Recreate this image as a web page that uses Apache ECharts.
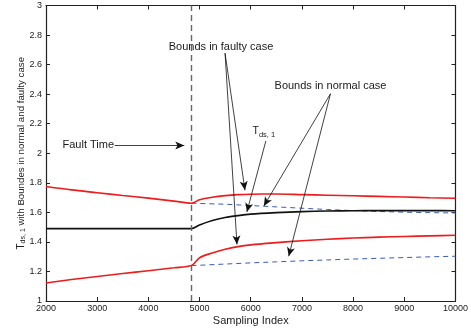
<!DOCTYPE html>
<html lang="en">
  <head>
    <meta charset="UTF-8" />
    <title>Tds,1 bounds</title>
    <script src="https://cdn.jsdelivr.net/npm/echarts@6.0.0/dist/echarts.min.js"></script>
  </head>
  <body style="margin: 0">
    <div id="main" style="width: 471px; height: 331px"></div>
    <script type="text/javascript">
      // sampling index and values
      var xs = [2000, 2500, 3000, 3500, 4000, 4500, 4840, 5000, 5250, 5500, 5750, 6000, 6500, 7000, 7500, 8000, 8500, 9000, 9500, 10000];
      var faultyUpper = [1.775, 1.752, 1.733, 1.714, 1.696, 1.676, 1.662, 1.685, 1.702, 1.713, 1.72, 1.723, 1.724, 1.72, 1.716, 1.712, 1.708, 1.704, 1.699, 1.695];
      var faultyLower = [1.122, 1.145, 1.166, 1.186, 1.205, 1.225, 1.24, 1.293, 1.325, 1.35, 1.368, 1.38, 1.395, 1.408, 1.418, 1.426, 1.432, 1.437, 1.441, 1.445];
      var tds = [1.49, 1.49, 1.49, 1.49, 1.49, 1.49, 1.49, 1.515, 1.545, 1.565, 1.578, 1.588, 1.598, 1.605, 1.609, 1.611, 1.612, 1.612, 1.612, 1.611];

      var normalX = [4840, 5000, 5500, 6000, 6500, 7000, 7500, 8000, 8500, 9000, 9500, 10000];
      var normalUpper = [1.662, 1.66, 1.655, 1.646, 1.637, 1.628, 1.619, 1.612, 1.606, 1.601, 1.598, 1.596];
      var normalLower = [1.24, 1.242, 1.25, 1.258, 1.265, 1.272, 1.278, 1.284, 1.289, 1.294, 1.299, 1.303];

      var faultTime = 4840;

      // annotation texts [x, y, text] and arrows [fromX, fromY, toX, toY]
      var notes = [
        [2826, 2.053, "Fault Time"],
        [5420, 2.717, "Bounds in faulty case"],
        [7558, 2.457, "Bounds in normal case"],
        [6256, 2.15, "{t|T}{s|ds, 1}"]
      ];
      var arrows = [
        [3341, 2.053, 4701, 2.053],
        [5498, 2.677, 5887, 1.75],
        [5498, 2.677, 5731, 1.383],
        [6295, 2.083, 5925, 1.603],
        [7558, 2.403, 6256, 1.643],
        [7558, 2.403, 6742, 1.303]
      ];

      function pairs(x, y) {
        return x.map(function (v, i) { return [v, y[i]]; });
      }

      var font = "Liberation Sans";
      var mirror = {
        axisLine: { lineStyle: { color: "#222", width: 1.2 } },
        axisTick: { inside: true, length: 4, lineStyle: { color: "#222" } },
        axisLabel: { show: false },
        splitLine: { show: false }
      };

      var chart = echarts.init(document.getElementById("main"));
      chart.setOption({
        animation: false,
        textStyle: { fontFamily: font },
        grid: { left: 46, right: 13.5, top: 5.5, bottom: 25.5 },
        xAxis: [
          {
            type: "value", min: 2000, max: 10000, interval: 1000,
            name: "Sampling Index", nameLocation: "middle", nameGap: 14, nameMoveOverlap: false,
            nameTextStyle: { fontSize: 11, color: "#222" },
            axisLine: { onZero: false, lineStyle: { color: "#222", width: 1.2 } },
            axisTick: { inside: true, length: 4, lineStyle: { color: "#222" } },
            axisLabel: { fontSize: 9, color: "#222", margin: 3, formatter: function (v) { return String(v); } },
            splitLine: { show: false }
          },
          Object.assign({ type: "value", min: 2000, max: 10000, interval: 1000, position: "top" }, mirror)
        ],
        yAxis: [
          {
            type: "value", min: 1, max: 3, interval: 0.2,
            name: "{t|T}{s|ds, 1}{n| with Boundes in normal and faulty case}",
            nameLocation: "middle", nameGap: 19, nameMoveOverlap: false,
            nameTextStyle: {
              color: "#222",
              rich: {
                t: { fontSize: 10, color: "#222" },
                s: { fontSize: 7, color: "#222", padding: [5, 0, 0, 0] },
                n: { fontSize: 9.7, color: "#222" }
              }
            },
            axisLine: { onZero: false, lineStyle: { color: "#222", width: 1.2 } },
            axisTick: { inside: true, length: 4, lineStyle: { color: "#222" } },
            axisLabel: { fontSize: 9, color: "#222", margin: 4 },
            splitLine: { show: false }
          },
          Object.assign({ type: "value", min: 1, max: 3, interval: 0.2, position: "right" }, mirror)
        ],
        series: [
          {
            type: "line", data: pairs(normalX, normalUpper), showSymbol: false,
            lineStyle: { color: "#3a5ab8", width: 1, type: [5, 4] }
          },
          {
            type: "line", data: pairs(normalX, normalLower), showSymbol: false,
            lineStyle: { color: "#3a5ab8", width: 1, type: [5, 4] }
          },
          {
            type: "line", data: pairs(xs, tds), showSymbol: false, smooth: 0.3,
            lineStyle: { color: "#111", width: 1.6 }
          },
          {
            type: "line", data: pairs(xs, faultyUpper), showSymbol: false, smooth: 0.3,
            lineStyle: { color: "#ee1c1c", width: 1.6 }
          },
          {
            type: "line", data: pairs(xs, faultyLower), showSymbol: false, smooth: 0.3,
            lineStyle: { color: "#ee1c1c", width: 1.6 },
            markLine: {
              silent: true, symbol: "none", label: { show: false },
              lineStyle: { color: "#666", type: [6, 4], width: 1.4 },
              data: [{ xAxis: faultTime }]
            }
          },
          {
            type: "scatter", symbolSize: 0, silent: true,
            itemStyle: { opacity: 1 },
            data: notes.map(function (n) { return { value: [n[0], n[1]], name: n[2] }; }),
            label: {
              show: true, position: "inside", formatter: "{b}", opacity: 1,
              fontSize: 11, color: "#1a1a1a", textBorderWidth: 0,
              rich: {
                t: { fontSize: 10.5, color: "#1a1a1a", textBorderWidth: 0 },
                s: { fontSize: 7.5, color: "#1a1a1a", textBorderWidth: 0, padding: [8, 0, 0, 0] }
              }
            },
            markLine: {
              silent: true, symbol: ["none", "arrow"], symbolSize: [6, 9],
              label: { show: false },
              lineStyle: { color: "#111", width: 0.8, type: "solid" },
              data: arrows.map(function (a) {
                return [{ coord: [a[0], a[1]] }, { coord: [a[2], a[3]] }];
              })
            }
          }
        ]
      });
    </script>
  </body>
</html>
